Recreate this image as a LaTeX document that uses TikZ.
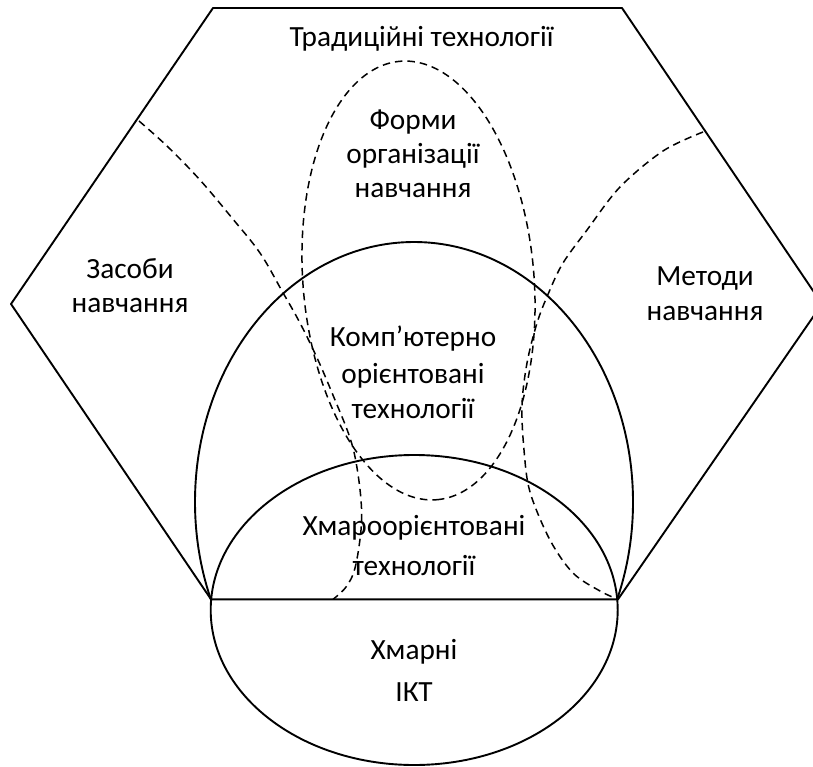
\documentclass[tikz,border=0pt]{standalone}
\usepackage{fontspec}
\setmainfont{Carlito}
\begin{document}
\begin{tikzpicture}[x=1pt,y=-1pt,line join=round,
  solidline/.style={line width=1.9pt},
  dashline/.style={line width=1.5pt,dash pattern=on 7.5pt off 5pt},
  lbl/.style={anchor=base,inner sep=0pt,font=\fontsize{29.3}{35}\selectfont}]
\useasboundingbox (0,0) rectangle (813,767);
\clip (0,0) rectangle (813,767);
% hexagon
\draw[solidline] (213,8) -- (622,8) -- (822,304) -- (618,599.3) -- (211,599.3) -- (11,304) -- cycle;
% big ellipse (computer oriented), upper part only
\begin{scope}
\clip (0,0) rectangle (813,599.3);
\draw[solidline] (414,502) ellipse [x radius=219, y radius=260];
\end{scope}
% small ellipse (cloud oriented)
\draw[solidline] (414.2,610) ellipse [x radius=203.5, y radius=155];
% dashed tilted ellipse (forms)
\draw[dashline] plot[domain=0:360,samples=145,smooth]
  ({418.5+115.5*sin(\x)*cos(4.8)+220*cos(\x)*sin(4.8)},
   {280.5-115.5*sin(\x)*sin(4.8)+220*cos(\x)*cos(4.8)});
% left dashed arc
\draw[dashline] plot[smooth,tension=0.6] coordinates {(139,121) (168,147) (200,180) (232,218) (260,253) (282,291) (300,323) (318,360) (335,400) (349,435) (356,462) (361,500) (361,530) (355,568) (346,587) (333,599.3)};
% right dashed arc
\draw[dashline] plot[smooth,tension=0.55] coordinates {(703,132) (663,151) (620,187) (587,230) (563,263) (549,292) (537,323) (527,363) (522,405) (524,450) (530,492) (550,540) (573,573) (600,591) (618,599.3)};
% labels
\node[lbl] (trad) at (421.5,46.7) {Традиційні технології};
\node[lbl] (forma) at (413,130) {Форми};
\node[lbl] (formb) at (413,164) {організації};
\node[lbl] (formc) at (413,198) {навчання};
\node[lbl] (zasa) at (130,278) {Засоби};
\node[lbl] (zasb) at (130,312.7) {навчання};
\node[lbl] (meta) at (705,285) {Методи};
\node[lbl] (metb) at (705,320) {навчання};
\node[lbl] (kompa) at (413,346.7) {Комп’ютерно};
\node[lbl] (kompb) at (413,383) {орієнтовані};
\node[lbl] (kompc) at (413,418) {технології};
\node[lbl] (hmora) at (414,535) {Хмароорієнтовані};
\node[lbl] (hmorb) at (414,575) {технології};
\node[lbl] (hma) at (414,659.3) {Хмарні};
\node[lbl] (hmb) at (414,701.7) {ІКТ};
\end{tikzpicture}
\end{document}
